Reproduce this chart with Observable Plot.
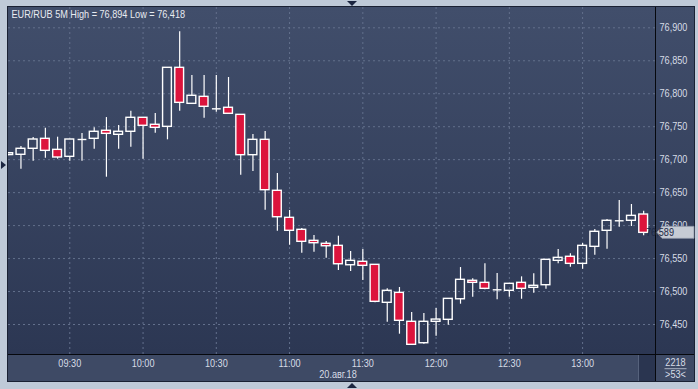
<!DOCTYPE html>
<html>
<head>
<meta charset="utf-8">
<script src="https://cdn.jsdelivr.net/npm/d3@7"></script>
<script src="https://cdn.jsdelivr.net/npm/@observablehq/plot@0.6"></script>
<style>
html,body{margin:0;padding:0;width:698px;height:389px;overflow:hidden;background:#bfcad8;}
#chart{position:absolute;left:8px;top:7px;width:686px;height:374px;background:linear-gradient(to bottom,#414e6b 0px,#2c3753 347px,#2c3753 374px);outline:1px solid #1a2133;}
#bottom{position:absolute;left:0;top:347px;width:686px;height:27px;background:#3e4a65;border-top:1px solid #06080d;box-sizing:border-box;}
#vdiv{position:absolute;left:647px;top:0;width:1px;height:374px;background:#06080d;}
#scroll{position:absolute;left:630px;top:348px;width:17px;height:26px;background:#2a3550;border-left:1px solid #56627c;box-sizing:border-box;}
#plotholder{position:absolute;left:0;top:0;width:686px;height:374px;}
.tri{position:absolute;width:0;height:0;}
#tTop{left:347px;top:1px;border-left:5px solid transparent;border-right:5px solid transparent;border-top:5px solid #1b2540;}
#tBot{left:347px;top:383px;border-left:5px solid transparent;border-right:5px solid transparent;border-bottom:5px solid #1b2540;}
#tLeft{left:1px;top:161px;border-top:4px solid transparent;border-bottom:4px solid transparent;border-left:5px solid #1b2540;}
</style>
</head>
<body>
<div class="tri" id="tTop"></div>
<div class="tri" id="tBot"></div>
<div class="tri" id="tLeft"></div>
<div id="chart">
  <div id="bottom"></div>
  <div id="scroll"></div>
  <div id="vdiv"></div>
  <div id="plotholder"></div>
</div>
<script>
// ---- data ----
const symbol = "EUR/RUB";
const period = "5M";
const dateLabel = "20.авг.18";
const volumeLabel = "2218";

const times = ["09:05","09:10","09:15","09:20","09:25","09:30","09:35","09:40","09:45","09:50","09:55",
  "10:00","10:05","10:10","10:15","10:20","10:25","10:30","10:35","10:40","10:45","10:50","10:55",
  "11:00","11:05","11:10","11:15","11:20","11:25","11:30","11:35","11:40","11:45","11:50","11:55",
  "12:00","12:05","12:10","12:15","12:20","12:25","12:30","12:35","12:40","12:45","12:50","12:55",
  "13:00","13:05","13:10","13:15","13:20","13:25"];

const open  = [76.7070,76.7074,76.7165,76.7316,76.7149,76.7043,76.7306,76.7316,76.7438,76.7377,76.7423,
  76.7635,76.7529,76.7498,76.8393,76.7847,76.7953,76.7771,76.7787,76.7680,76.7068,76.7301,76.6528,
  76.6118,76.5936,76.5769,76.5724,76.5693,76.5399,76.5451,76.5405,76.4829,76.4980,76.4541,76.4216,
  76.4541,76.4571,76.4883,76.5163,76.5132,76.5026,76.5011,76.5132,76.5056,76.5096,76.5466,76.5527,
  76.5420,76.5678,76.5921,76.6073,76.6073,76.6168];
const high  = [76.7100,76.7200,76.7336,76.7477,76.7341,76.7310,76.7397,76.7483,76.7639,76.7518,76.7735,
  76.7640,76.7700,76.8393,76.8940,76.8276,76.8276,76.8276,76.8246,76.7680,76.7382,76.7427,76.6790,
  76.6229,76.5956,76.5850,76.5759,76.5839,76.5607,76.5637,76.5405,76.5041,76.5061,76.4682,76.4667,
  76.4742,76.4889,76.5364,76.5193,76.5420,76.5273,76.5117,76.5223,76.5269,76.5481,76.5637,76.5572,
  76.5728,76.5941,76.6092,76.6380,76.6320,76.6218];
const low   = [76.7060,76.6855,76.6977,76.7022,76.7007,76.6977,76.6977,76.7159,76.6734,76.7159,76.7189,
  76.7007,76.7401,76.7301,76.7735,76.7847,76.7629,76.7720,76.7696,76.6764,76.6820,76.6233,76.5915,
  76.5702,76.5581,76.5596,76.5505,76.5319,76.5304,76.5167,76.4829,76.4535,76.4353,76.4180,76.4201,
  76.4322,76.4489,76.4808,76.4914,76.5026,76.4874,76.4914,76.4883,76.4974,76.5035,76.5420,76.5369,
  76.5338,76.5551,76.5642,76.5976,76.5986,76.5845];
const close = [76.7098,76.7165,76.7306,76.7134,76.7033,76.7306,76.7306,76.7423,76.7392,76.7423,76.7635,
  76.7514,76.7483,76.8393,76.7862,76.7969,76.7802,76.7771,76.7696,76.7068,76.7301,76.6537,76.6127,
  76.5921,76.5754,76.5733,76.5687,76.5414,76.5466,76.5390,76.4844,76.5011,76.4556,76.4192,76.4541,
  76.4575,76.4889,76.5178,76.5132,76.5041,76.5026,76.5117,76.5041,76.5087,76.5481,76.5511,76.5420,
  76.5693,76.5906,76.6073,76.6073,76.6148,76.5890];

const yTicks = [76.45,76.50,76.55,76.60,76.65,76.70,76.75,76.80,76.85,76.90];
const xTickLabels = ["09:30","10:00","10:30","11:00","11:30","12:00","12:30","13:00"];

// ---- build ----
const FONT = '"Liberation Sans",Arial,sans-serif';
const toMin = s => { const [h, m] = s.split(":").map(Number); return h * 60 + m; };
const candles = times.map((t, i) => ({t: toMin(t), o: open[i], h: high[i], l: low[i], c: close[i]}));
const xTicks = xTickLabels.map(toMin);
const fmt = v => d3.format(".3f")(v).replace(".", ",");
const title = `${symbol} ${period} High = ${fmt(d3.max(high))} Low = ${fmt(d3.min(low))}`;
const HW = 1.8; // half body width in minutes
const up = candles.filter(d => d.c > d.o);
const down = candles.filter(d => d.c < d.o);
const doji = candles.filter(d => d.c === d.o);
const wickStyle = {stroke: "#ffffff", strokeWidth: 1.2, clip: true};

const plot = Plot.plot({
  width: 686, height: 374,
  marginLeft: 0, marginTop: 0, marginRight: 39, marginBottom: 27,
  style: {background: "transparent", color: "#d7dce6", fontFamily: FONT, fontSize: "11px", overflow: "visible"},
  x: {type: "linear", domain: [544.9, 809.85], label: null},
  y: {domain: [76.4045, 76.9308], label: null},
  marks: [
    Plot.gridY(yTicks, {stroke: "#63708c", strokeOpacity: 1, strokeDasharray: "2,3", strokeWidth: 1}),
    Plot.gridX(xTicks, {stroke: "#63708c", strokeOpacity: 1, strokeDasharray: "2,3", strokeWidth: 1}),
    Plot.ruleX(candles, {x: "t", y1: "l", y2: d => Math.min(d.o, d.c), ...wickStyle}),
    Plot.ruleX(candles, {x: "t", y1: d => Math.max(d.o, d.c), y2: "h", ...wickStyle}),
    Plot.rect(up, {x1: d => d.t - HW, x2: d => d.t + HW, y1: "o", y2: "c", fill: "none", stroke: "#ffffff", strokeWidth: 1.4, clip: true}),
    Plot.rect(down, {x1: d => d.t - HW, x2: d => d.t + HW, y1: "o", y2: "c", fill: "#dc143c", stroke: "#ffffff", strokeWidth: 1.4, clip: true}),
    Plot.link(doji, {x1: d => d.t - HW, x2: d => d.t + HW, y1: "o", y2: "c", stroke: "#ffffff", strokeWidth: 1.4, clip: true}),
    Plot.axisY(yTicks, {anchor: "right", tickSize: 0, tickPadding: 4, tickFormat: fmt, label: null}),
    Plot.axisX(xTicks, {anchor: "bottom", tickSize: 0, tickPadding: 5, tickFormat: d => xTickLabels[xTicks.indexOf(d)], label: null}),
    Plot.text([dateLabel], {frameAnchor: "bottom", dx: 6, dy: 20, lineAnchor: "middle"}),
    Plot.text([title], {frameAnchor: "top-left", dx: 3, dy: 3, textAnchor: "start", fill: "#e8ebf1"})
  ]
});
document.getElementById("plotholder").appendChild(plot);

// last price marker and corner labels, positioned through the plot's scales
const svg = d3.select(plot);
const xs = plot.scale("x"), ys = plot.scale("y");
const xr = xs.range[1];
const last = close[close.length - 1];
const yl = ys.apply(last);
const g = svg.append("g").attr("font-family", FONT).attr("font-size", 11);
g.append("path")
  .attr("d", `M${xr + 2},${yl} L${xr + 7},${yl - 6} L${686},${yl - 6} L${686},${yl + 6} L${xr + 7},${yl + 6} Z`)
  .attr("fill", "#c6cbd4").attr("stroke", "#8e97a8").attr("stroke-width", 0.8);
g.append("text").attr("x", xr + 5).attr("y", yl + 4).attr("fill", "#1c2845").text(fmt(last));
const cx = (xr + 686) / 2 + 1;
const yb = ys.range[0];
g.append("text").attr("x", cx).attr("y", yb + 12).attr("text-anchor", "middle").attr("fill", "#d7dce6").text(volumeLabel);
g.append("line").attr("x1", cx - 11).attr("x2", cx + 11).attr("y1", yb + 14.7).attr("y2", yb + 14.7).attr("stroke", "#aab2c2").attr("stroke-width", 1);
g.append("text").attr("x", cx).attr("y", yb + 24).attr("text-anchor", "middle").attr("fill", "#d7dce6").text(`>${candles.length}<`);

// condense all text (the original uses a narrow UI font)
svg.selectAll("text").each(function() {
  const w = this.getComputedTextLength();
  if (w > 0) {
    this.setAttribute("textLength", (w * 0.83).toFixed(2));
    this.setAttribute("lengthAdjust", "spacingAndGlyphs");
  }
});
</script>
</body>
</html>
